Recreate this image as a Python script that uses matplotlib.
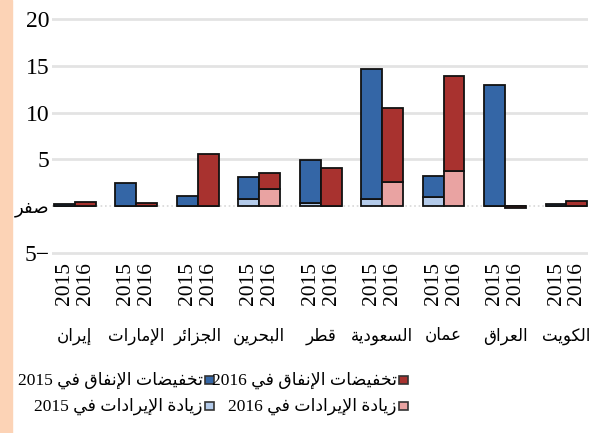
import numpy as np
import matplotlib
matplotlib.use('Agg')
import matplotlib.pyplot as plt
from matplotlib.patches import Rectangle

# arabic letter forms: isolated, final, initial, medial (None = does not join left)
FORMS = {
    'ا': ('\uFE8D', '\uFE8E', None, None),
    'إ': ('\uFE87', '\uFE88', None, None),
    'ب': ('\uFE8F', '\uFE90', '\uFE91', '\uFE92'),
    'ة': ('\uFE93', '\uFE94', None, None),
    'ت': ('\uFE95', '\uFE96', '\uFE97', '\uFE98'),
    'ج': ('\uFE9D', '\uFE9E', '\uFE9F', '\uFEA0'),
    'ح': ('\uFEA1', '\uFEA2', '\uFEA3', '\uFEA4'),
    'خ': ('\uFEA5', '\uFEA6', '\uFEA7', '\uFEA8'),
    'د': ('\uFEA9', '\uFEAA', None, None),
    'ر': ('\uFEAD', '\uFEAE', None, None),
    'ز': ('\uFEAF', '\uFEB0', None, None),
    'س': ('\uFEB1', '\uFEB2', '\uFEB3', '\uFEB4'),
    'ص': ('\uFEB9', '\uFEBA', '\uFEBB', '\uFEBC'),
    'ض': ('\uFEBD', '\uFEBE', '\uFEBF', '\uFEC0'),
    'ط': ('\uFEC1', '\uFEC2', '\uFEC3', '\uFEC4'),
    'ع': ('\uFEC9', '\uFECA', '\uFECB', '\uFECC'),
    'ف': ('\uFED1', '\uFED2', '\uFED3', '\uFED4'),
    'ق': ('\uFED5', '\uFED6', '\uFED7', '\uFED8'),
    'ك': ('\uFED9', '\uFEDA', '\uFEDB', '\uFEDC'),
    'ل': ('\uFEDD', '\uFEDE', '\uFEDF', '\uFEE0'),
    'م': ('\uFEE1', '\uFEE2', '\uFEE3', '\uFEE4'),
    'ن': ('\uFEE5', '\uFEE6', '\uFEE7', '\uFEE8'),
    'و': ('\uFEED', '\uFEEE', None, None),
    'ي': ('\uFEF1', '\uFEF2', '\uFEF3', '\uFEF4'),
    'ئ': ('\uFE89', '\uFE8A', '\uFE8B', '\uFE8C'),
}
LAM_ALEF = {'ا': ('\uFEFB', '\uFEFC'), 'إ': ('\uFEF9', '\uFEFA')}


def dual(c):
    return c in FORMS and FORMS[c][2] is not None


def shape_word(w):
    out = []
    i = 0
    while i < len(w):
        c = w[i]
        prev = w[i - 1] if i > 0 else ''
        joins_prev = dual(prev)
        if c == 'ل' and i + 1 < len(w) and w[i + 1] in LAM_ALEF:
            out.append(LAM_ALEF[w[i + 1]][1 if joins_prev else 0])
            i += 2
            continue
        if c not in FORMS:
            out.append(c)
            i += 1
            continue
        nxt = w[i + 1] if i + 1 < len(w) else ''
        joins_next = dual(c) and nxt in FORMS
        iso, fin, ini, med = FORMS[c]
        if joins_prev and joins_next:
            out.append(med)
        elif joins_prev:
            out.append(fin)
        elif joins_next:
            out.append(ini)
        else:
            out.append(iso)
        i += 1
    return ''.join(out[::-1])


def ar(s):
    words = []
    for w in s.split(' '):
        if any(ch in FORMS for ch in w):
            words.append(shape_word(w))
        else:
            words.append(w)
    return ' '.join(words[::-1])


countries = ['إيران', 'الإمارات', 'الجزائر', 'البحرين', 'قطر', 'السعودية', 'عمان', 'العراق', 'الكويت']
years = ['2015', '2016']
rev_2015 = [0, 0, 0, 0.75, 0.35, 0.75, 1.0, 0, 0]
cut_2015 = [0.2, 2.45, 1.1, 2.35, 4.55, 13.85, 2.2, 12.9, 0.2]
rev_2016 = [0, 0, 0, 1.8, 0, 2.6, 3.75, 0, 0]
cut_2016 = [0.45, 0.4, 5.6, 1.8, 4.1, 7.9, 10.15, -0.2, 0.6]
legend_labels = ['تخفيضات الإنفاق في 2016', 'تخفيضات الإنفاق في 2015',
                 'زيادة الإيرادات في 2016', 'زيادة الإيرادات في 2015']
y_ticks = [-5, 0, 5, 10, 15, 20]
y_ticklabels = ['5−', 'صفر', '5', '10', '15', '20']

BLUE = '#3466a6'
RED = '#a8322f'
LBLUE = '#b4cbea'
PINK = '#e9a3a2'

SERIF = ['Liberation Serif', 'DejaVu Sans']

fig = plt.figure(figsize=(6.01, 4.33), dpi=100)
fig.patches.append(Rectangle((0, 0), 12 / 601, 1, transform=fig.transFigure,
                             color='#fcd3b6', zorder=0))
ax = fig.add_axes([52 / 601, 1 - 255 / 433, 536 / 601, 238 / 433])

x = np.arange(len(countries))
w = 0.34
kw = dict(edgecolor='#111111', linewidth=1.3, zorder=3)
ax.bar(x - w / 2, rev_2015, w, color=LBLUE, **kw)
ax.bar(x - w / 2, cut_2015, w, bottom=rev_2015, color=BLUE, **kw)
ax.bar(x + w / 2, rev_2016, w, color=PINK, **kw)
ax.bar(x + w / 2, cut_2016, w, bottom=rev_2016, color=RED, **kw)

ax.set_xlim(-0.37, 8.35)
ax.set_ylim(-5.2, 20.2)
for yv in y_ticks:
    if yv == 0:
        ax.axhline(yv, color='#d8d8d8', lw=1.2, ls=':', zorder=1)
    else:
        ax.axhline(yv, color='#e3e3e3', lw=2, zorder=1)

ax.set_yticks(y_ticks)
ax.set_yticklabels([ar(t) for t in y_ticklabels], fontsize=17, family=SERIF)
for t, s in zip(ax.get_yticklabels(), y_ticklabels):
    if s == 'صفر':
        t.set_fontsize(13)
ax.tick_params(axis='y', length=0, pad=2)

pos = np.concatenate([x - w / 2, x + w / 2])
labs = [years[0]] * len(x) + [years[1]] * len(x)
ax.set_xticks(pos)
ax.set_xticklabels(labs, rotation=90, fontsize=15.5, family=SERIF)
ax.tick_params(axis='x', length=0, pad=5)

for i, c in enumerate(countries):
    ax.text(i, -0.34, ar(c), transform=ax.get_xaxis_transform(), ha='center',
            va='center', fontsize=12, family=SERIF)

for s in ax.spines.values():
    s.set_visible(False)

# legend drawn by hand, right to left
rows = [(380, [(RED, legend_labels[0]), (BLUE, legend_labels[1])]),
        (406, [(PINK, legend_labels[2]), (LBLUE, legend_labels[3])])]
marker_x = [404, 210]
for ypx, items in rows:
    for (col, lab), mx in zip(items, marker_x):
        fig.patches.append(Rectangle(((mx - 5) / 601, 1 - (ypx + 4) / 433), 9 / 601, 8 / 433,
                                     transform=fig.transFigure, facecolor=col,
                                     edgecolor='#333333', lw=1.2))
        fig.text((mx - 7) / 601, 1 - ypx / 433, ar(lab), ha='right', va='center',
                 fontsize=12.5, family=SERIF)

fig.savefig('out.png', dpi=100)
